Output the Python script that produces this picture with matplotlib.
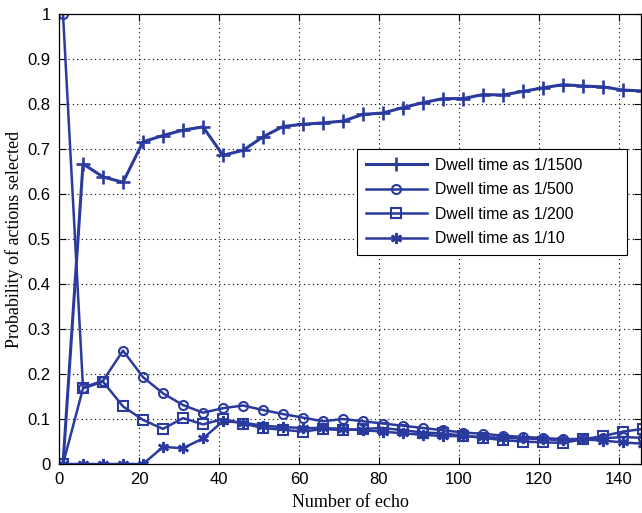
# Probability of each action being selected vs. number of echoes
import matplotlib.pyplot as plt

# echo index of each sample
echo = [1, 6, 11, 16, 21, 26, 31, 36, 41, 46, 51, 56, 61, 66, 71,
        76, 81, 86, 91, 96, 101, 106, 111, 116, 121, 126, 131, 136, 141, 146]

# dwell time 1/1500
p_1500 = [0.0, 0.667, 0.638, 0.626, 0.716, 0.730, 0.742, 0.749, 0.686, 0.697,
          0.727, 0.750, 0.755, 0.758, 0.762, 0.777, 0.780, 0.792, 0.803, 0.812,
          0.812, 0.821, 0.820, 0.828, 0.836, 0.843, 0.840, 0.838, 0.831, 0.829]
# dwell time 1/500
p_500 = [1.0, 0.170, 0.185, 0.252, 0.193, 0.157, 0.131, 0.114, 0.124, 0.130,
         0.120, 0.111, 0.103, 0.095, 0.100, 0.095, 0.090, 0.085, 0.080, 0.075,
         0.070, 0.067, 0.063, 0.060, 0.058, 0.055, 0.056, 0.057, 0.060, 0.058]
# dwell time 1/200
p_200 = [0.0, 0.168, 0.183, 0.128, 0.098, 0.078, 0.102, 0.088, 0.100, 0.090,
         0.080, 0.076, 0.072, 0.078, 0.075, 0.078, 0.080, 0.075, 0.070, 0.068,
         0.063, 0.058, 0.053, 0.050, 0.048, 0.047, 0.055, 0.062, 0.072, 0.078]
# dwell time 1/10
p_10 = [0.0, 0.0, 0.0, 0.0, 0.0, 0.038, 0.035, 0.057, 0.095, 0.092,
        0.085, 0.082, 0.080, 0.080, 0.078, 0.075, 0.072, 0.068, 0.065, 0.062,
        0.062, 0.060, 0.058, 0.057, 0.055, 0.053, 0.055, 0.052, 0.048, 0.045]

labels = ["Dwell time as 1/1500", "Dwell time as 1/500",
          "Dwell time as 1/200", "Dwell time as 1/10"]

color = "#2b3a9d"

fig = plt.figure(figsize=(6.42, 5.13), dpi=100)
ax = fig.add_axes([59 / 642, 1 - 464 / 513, 582 / 642, 450 / 513])

ax.plot(echo, p_1500, color=color, lw=2.2, marker="+", ms=10, mew=1.9, label=labels[0])
ax.plot(echo, p_500, color=color, lw=1.8, marker="o", ms=6.5, mew=1.5,
        mfc="none", label=labels[1])
ax.plot(echo, p_200, color=color, lw=1.8, marker="s", ms=7, mew=1.5,
        mfc="none", label=labels[2])
ax.plot(echo, p_10, color=color, lw=1.8, marker=(6, 2, 0), ms=8, mew=1.8,
        label=labels[3])

ax.set_xlim(0, 145.5)
ax.set_ylim(0, 1)
ax.set_xticks(range(0, 141, 20))
ax.set_yticks([i / 10 for i in range(11)])
ax.set_yticklabels(["0"] + ["0.%d" % i for i in range(1, 10)] + ["1"])

ax.grid(True, color="black", linestyle=(0, (1, 3)), linewidth=0.8)
ax.tick_params(direction="in", length=5, width=0.8, top=True, right=True,
               labelsize=12, pad=6)
for lab in ax.get_xticklabels() + ax.get_yticklabels():
    lab.set_fontfamily("Liberation Sans")
for sp in ax.spines.values():
    sp.set_linewidth(0.9)

ax.set_xlabel("Number of echo", fontfamily="Liberation Serif", fontsize=13, labelpad=5)
ax.set_ylabel("Probability of actions selected", fontfamily="Liberation Serif",
              fontsize=13, labelpad=3)

# legend box stretched to a fixed frame in figure coordinates
leg = ax.legend(loc="upper left",
                bbox_to_anchor=(357 / 642, 1 - 255 / 513, 270 / 642, 106 / 513),
                bbox_transform=fig.transFigure, mode="expand", borderaxespad=0,
                prop={"family": "Liberation Sans", "size": 11.4},
                handlelength=3.85, handletextpad=0.5, labelspacing=0.6,
                borderpad=0.55, fancybox=False, framealpha=1, edgecolor="black")
leg.get_frame().set_linewidth(0.8)

fig.savefig("out.png", dpi=100)
